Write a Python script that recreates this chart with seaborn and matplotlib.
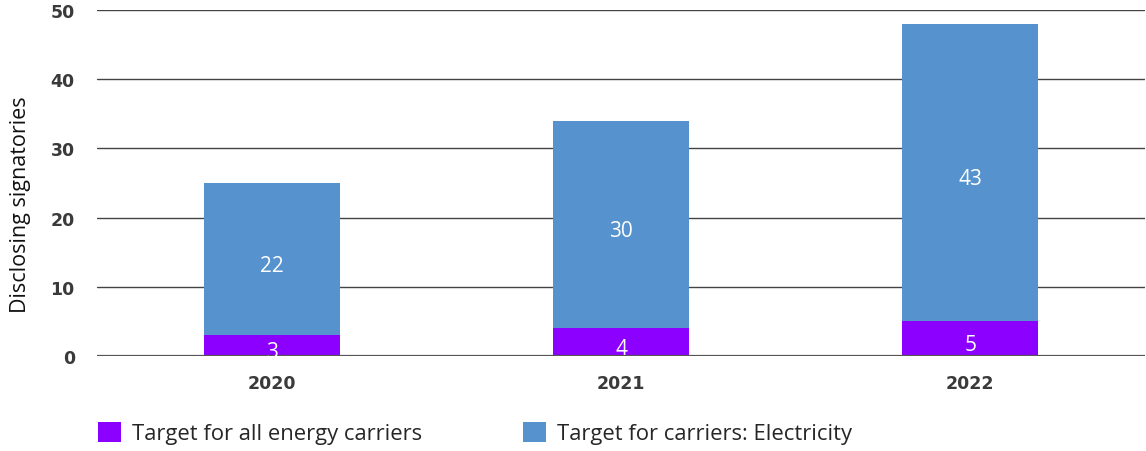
import matplotlib
matplotlib.use("Agg")
import matplotlib.pyplot as plt
from matplotlib.patches import Patch
import seaborn as sns
import pandas as pd

years = ["2020", "2021", "2022"]
all_carriers = [3, 4, 5]
electricity = [22, 30, 43]
series_names = ["Target for all energy carriers", "Target for carriers: Electricity"]
colors = ["#8b00ff", "#5592ce"]

totals = [a + e for a, e in zip(all_carriers, electricity)]
df = pd.DataFrame({"year": years, "all": all_carriers, "elec": electricity, "total": totals})

sns.set_theme(style="white")
plt.rcParams["font.family"] = ["Open Sans", "DejaVu Sans"]

fig = plt.figure(figsize=(11.46, 4.52), dpi=100)
ax = fig.add_axes([97 / 1146, 1 - 357 / 452, 1048 / 1146, 346 / 452])

# stacked bars: full height in blue, lower segment in purple on top
sns.barplot(data=df, x="year", y="total", color=colors[1], width=0.39,
            saturation=1, linewidth=0, ax=ax, zorder=3)
sns.barplot(data=df, x="year", y="all", color=colors[0], width=0.39,
            saturation=1, linewidth=0, ax=ax, zorder=4)

for i in range(len(years)):
    ax.text(i, all_carriers[i] / 2 - 0.9, str(all_carriers[i]), ha="center", va="center",
            color="white", fontsize=15, zorder=7)
    ax.text(i, all_carriers[i] + electricity[i] / 2 - 0.9, str(electricity[i]), ha="center",
            va="center", color="white", fontsize=15, zorder=7)

ax.set_ylim(0, 50)
ax.set_xlim(-0.5, 2.5)
ax.set_yticks(range(0, 51, 10))
for y in range(0, 51, 10):
    ax.axhline(y, color="#444444" if y else "#555555", lw=1.0 if y else 1.6, zorder=1 if y else 6)
for s in ax.spines.values():
    s.set_visible(False)
ax.set_xlabel("")
ax.set_ylabel("Disclosing signatories", fontsize=15.5, color="#111111")
ax.yaxis.set_label_coords(-0.0625, 0.44)
ax.tick_params(axis="both", length=0, labelcolor="#3a3a3a")
ax.tick_params(axis="y", pad=16)
ax.tick_params(axis="x", pad=13)
for lab in ax.get_xticklabels() + ax.get_yticklabels():
    lab.set_fontfamily("DejaVu Sans")
    lab.set_fontweight("bold")
    lab.set_fontsize(12.5)

handles = [Patch(facecolor=c, edgecolor="none") for c in colors]
fig.legend(handles, series_names, loc="center left", bbox_to_anchor=(98 / 1146, 1 - 434 / 452),
           ncol=2, frameon=False, fontsize=15.8, handlelength=1.05, handleheight=1.05,
           handletextpad=0.5, columnspacing=4.6, borderpad=0, borderaxespad=0)

fig.savefig("out.png", dpi=100)
